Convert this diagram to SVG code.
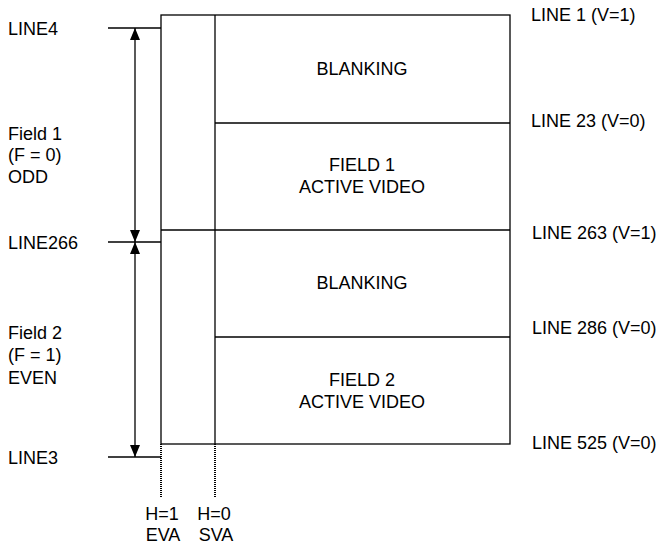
<svg xmlns="http://www.w3.org/2000/svg" width="664" height="549" viewBox="0 0 664 549">
<defs>
<style>
text{font-family:"Liberation Sans",Arial,sans-serif;font-size:18px;fill:#000}
.c{text-anchor:middle}
.ln{stroke:#000;stroke-width:1.3;fill:none}
.dot{stroke:#000;stroke-width:2;stroke-dasharray:1 1;fill:none}
</style>
<marker id="ah" viewBox="0 0 12 10" refX="12" refY="5" markerWidth="12" markerHeight="10" markerUnits="userSpaceOnUse" orient="auto"><path d="M0,0L12,5L0,10z" fill="#000"/></marker>
</defs>
<rect fill="#fff" width="664" height="549"/>
<g id="frame">
<rect class="ln" x="161" y="15" width="349" height="429"/>
<line class="ln" x1="215" y1="15" x2="215" y2="444"/>
<line class="ln" x1="215" y1="123" x2="510" y2="123"/>
<line class="ln" x1="161" y1="230" x2="510" y2="230"/>
<line class="ln" x1="215" y1="337" x2="510" y2="337"/>
</g>
<g id="region-labels">
<text class="c" x="362" y="75">BLANKING</text>
<text class="c" x="362" y="171">FIELD 1</text>
<text class="c" x="362" y="193">ACTIVE VIDEO</text>
<text class="c" x="362" y="289">BLANKING</text>
<text class="c" x="362" y="386">FIELD 2</text>
<text class="c" x="362" y="408">ACTIVE VIDEO</text>
</g>
<g id="connectors">
<line class="ln" x1="108" y1="28" x2="161" y2="28"/>
<line class="ln" x1="108" y1="242" x2="161" y2="242"/>
<line class="ln" x1="108" y1="457" x2="161" y2="457"/>
<line class="ln" x1="135" y1="135" x2="135" y2="28" marker-end="url(#ah)"/>
<line class="ln" x1="135" y1="135" x2="135" y2="242" marker-end="url(#ah)"/>
<line class="ln" x1="135" y1="350" x2="135" y2="242" marker-end="url(#ah)"/>
<line class="ln" x1="135" y1="350" x2="135" y2="457" marker-end="url(#ah)"/>
<line class="dot" x1="161" y1="444" x2="161" y2="498"/>
<line class="dot" x1="215" y1="444" x2="215" y2="498"/>
</g>
<g id="left-labels">
<text x="8" y="35">LINE4</text>
<text x="8" y="140">Field 1</text>
<text x="8" y="161">(F = 0)</text>
<text x="8" y="183">ODD</text>
<text x="8" y="249">LINE266</text>
<text x="8" y="339">Field 2</text>
<text x="8" y="361">(F = 1)</text>
<text x="8" y="384">EVEN</text>
<text x="8" y="464">LINE3</text>
</g>
<g id="right-labels">
<text x="531" y="21">LINE 1 (V=1)</text>
<text x="531" y="127">LINE 23 (V=0)</text>
<text x="532" y="239">LINE 263 (V=1)</text>
<text x="532" y="334">LINE 286 (V=0)</text>
<text x="532" y="449">LINE 525 (V=0)</text>
</g>
<g id="bottom-labels">
<text class="c" x="162" y="520">H=1</text>
<text class="c" x="163" y="541">EVA</text>
<text class="c" x="214" y="520">H=0</text>
<text class="c" x="216" y="541">SVA</text>
</g>
</svg>
